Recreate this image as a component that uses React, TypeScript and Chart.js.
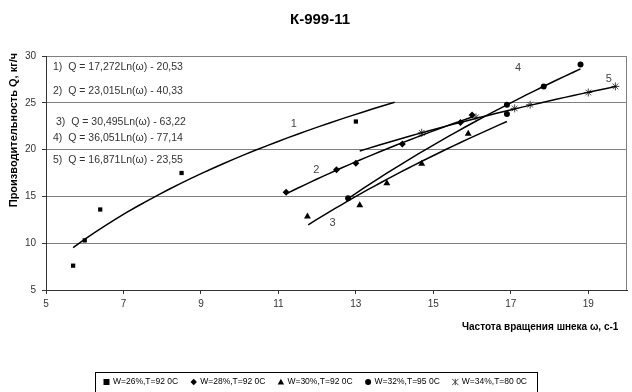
import React, { useEffect, useRef } from 'react';
import { Chart, registerables } from 'chart.js';

Chart.register(...registerables);

const chartTitle = 'К-999-11';
const yTitle = 'Производительность Q, кг/ч';
const xTitle = 'Частота вращения шнека ω, с-1';

const seriesNames = ['W=26%,T=92 0C', 'W=28%,T=92 0C', 'W=30%,T=92 0C', 'W=32%,T=95 0C', 'W=34%,T=80 0C'];

const s1X = [5.7, 6.0, 6.4, 8.5, 13.0];
const s1Y = [7.6, 10.3, 13.6, 17.5, 23.0];
const s2X = [11.2, 12.5, 13.0, 14.2, 15.7, 16.0];
const s2Y = [15.45, 17.85, 18.55, 20.6, 22.9, 23.7];
const s3X = [11.75, 13.1, 13.8, 14.7, 15.9];
const s3Y = [12.85, 14.05, 16.4, 18.5, 21.7];
const s4X = [12.8, 16.9, 16.9, 17.85, 18.8];
const s4Y = [14.8, 23.8, 24.8, 26.75, 29.1];
const s5X = [14.7, 16.1, 17.1, 17.5, 19.0, 19.7];
const s5Y = [21.8, 23.45, 24.4, 24.8, 26.1, 26.75];

// Logarithmic trendlines Q = a*Ln(w) + b, as printed on the chart
const trendA = [17.272, 23.015, 30.495, 36.051, 16.871];
const trendB = [-20.53, -40.33, -63.22, -77.14, -23.55];
const trendFrom = [5.7, 11.2, 11.77, 12.8, 13.1];
const trendTo = [14.0, 16.0, 16.9, 18.8, 19.72];

const equations = [
  '1)  Q = 17,272Ln(ω) - 20,53',
  '2)  Q = 23,015Ln(ω) - 40,33',
  '3)  Q = 30,495Ln(ω) - 63,22',
  '4)  Q = 36,051Ln(ω) - 77,14',
  '5)  Q = 16,871Ln(ω) - 23,55',
];
const curveLabels = ['1', '2', '3', '4', '5'];

const xTicks = [5, 7, 9, 11, 13, 15, 17, 19];
const yTicks = [5, 10, 15, 20, 25, 30];

const FONT = '"Liberation Sans", Arial, sans-serif';

function pts(xs: number[], ys: number[]) {
  return xs.map((x, i) => ({ x, y: ys[i] }));
}

function logCurve(i: number) {
  const out: { x: number; y: number }[] = [];
  const n = 30;
  for (let k = 0; k <= n; k++) {
    const x = trendFrom[i] + ((trendTo[i] - trendFrom[i]) * k) / n;
    out.push({ x, y: trendA[i] * Math.log(x) + trendB[i] });
  }
  return out;
}

const markerStyles = ['rect', 'rectRot', 'triangle', 'circle', 'star'];
const markerRadius = [3, 3.5, 4, 3, 4];
const markerColors = ['#000', '#000', '#000', '#000', '#444'];

function drawMarker(ctx: CanvasRenderingContext2D, style: string, x: number, y: number, r: number, color: string) {
  ctx.fillStyle = color;
  ctx.strokeStyle = color;
  ctx.lineWidth = 1;
  ctx.beginPath();
  if (style === 'rect') {
    ctx.rect(x - r, y - r, 2 * r, 2 * r);
    ctx.fill();
  } else if (style === 'rectRot') {
    ctx.moveTo(x, y - r);
    ctx.lineTo(x + r, y);
    ctx.lineTo(x, y + r);
    ctx.lineTo(x - r, y);
    ctx.closePath();
    ctx.fill();
  } else if (style === 'triangle') {
    ctx.moveTo(x, y - r);
    ctx.lineTo(x + r, y + r * 0.8);
    ctx.lineTo(x - r, y + r * 0.8);
    ctx.closePath();
    ctx.fill();
  } else if (style === 'circle') {
    ctx.arc(x, y, r, 0, Math.PI * 2);
    ctx.fill();
  } else {
    ctx.moveTo(x - r, y - r);
    ctx.lineTo(x + r, y + r);
    ctx.moveTo(x + r, y - r);
    ctx.lineTo(x - r, y + r);
    ctx.moveTo(x, y - r);
    ctx.lineTo(x, y + r);
    ctx.stroke();
  }
}

const decorPlugin = {
  id: 'decor',
  afterDraw(chart: any) {
    const ctx: CanvasRenderingContext2D = chart.ctx;
    const { left, right, top, bottom } = chart.chartArea;
    const xs = chart.scales.x;
    const ys = chart.scales.y;
    ctx.save();

    // right border of plot
    ctx.strokeStyle = '#808080';
    ctx.lineWidth = 1;
    ctx.beginPath();
    const rx = Math.round(right) - 0.5;
    ctx.moveTo(rx, top);
    ctx.lineTo(rx, bottom);
    ctx.stroke();

    // title
    ctx.fillStyle = '#000';
    ctx.textAlign = 'center';
    ctx.textBaseline = 'middle';
    ctx.font = `bold 15px ${FONT}`;
    ctx.fillText(chartTitle, 320, 20);

    // y title
    ctx.save();
    ctx.translate(14, 130);
    ctx.rotate(-Math.PI / 2);
    ctx.font = `bold 11px ${FONT}`;
    ctx.fillText(yTitle, 0, 0);
    ctx.restore();

    // x title
    ctx.textAlign = 'left';
    ctx.font = `bold 10px ${FONT}`;
    ctx.fillText(xTitle, 462, 327);

    // equations
    const eqOffY = [10.7, 34.7, 65.7, 81.7, 104];
    const eqOffX = [7, 7, 10, 7, 7];
    ctx.font = `10.5px ${FONT}`;
    ctx.fillStyle = '#333';
    equations.forEach((t, i) => ctx.fillText(t, left + eqOffX[i], top + eqOffY[i]));

    // curve labels (data coordinates)
    const labelAt = [
      [11.4, 22.7],
      [11.98, 17.8],
      [12.4, 12.2],
      [17.19, 28.7],
      [19.53, 27.55],
    ];
    ctx.font = `11px ${FONT}`;
    ctx.fillStyle = '#444';
    ctx.textAlign = 'center';
    curveLabels.forEach((t, i) => {
      ctx.fillText(t, xs.getPixelForValue(labelAt[i][0]), ys.getPixelForValue(labelAt[i][1]));
    });

    // legend
    ctx.font = `8.5px ${FONT}`;
    ctx.textAlign = 'left';
    const gap = 10;
    const widths = seriesNames.map((n) => 12 + ctx.measureText(n).width);
    const total = widths.reduce((a, b) => a + b, 0) + gap * (seriesNames.length - 1);
    const boxL = Math.round(316 - total / 2 - 8);
    const boxR = Math.round(316 + total / 2 + 8);
    ctx.strokeStyle = '#000';
    ctx.lineWidth = 1;
    ctx.strokeRect(boxL + 0.5, 372.5, boxR - boxL, 30);
    let cx = boxL + 8;
    const ly = 382;
    seriesNames.forEach((n, i) => {
      drawMarker(ctx, markerStyles[i], cx + 3.5, ly, Math.min(markerRadius[i], 3.2), markerColors[i]);
      ctx.fillStyle = '#000';
      ctx.fillText(n, cx + 10, ly);
      cx += widths[i] + gap;
    });

    ctx.restore();
  },
};

export default function App() {
  const ref = useRef<HTMLCanvasElement>(null);

  useEffect(() => {
    document.body.style.margin = '0';
    const scatterX = [s1X, s2X, s3X, s4X, s5X];
    const scatterY = [s1Y, s2Y, s3Y, s4Y, s5Y];
    const datasets: any[] = [];
    for (let i = 0; i < 5; i++) {
      datasets.push({
        type: 'line',
        label: 'trend' + (i + 1),
        data: logCurve(i),
        borderColor: '#000',
        borderWidth: 1.5,
        pointRadius: 0,
        fill: false,
        tension: 0,
      });
    }
    for (let i = 0; i < 5; i++) {
      datasets.push({
        type: 'scatter',
        label: seriesNames[i],
        data: pts(scatterX[i], scatterY[i]),
        pointStyle: markerStyles[i],
        pointRadius: markerRadius[i],
        backgroundColor: markerColors[i],
        borderColor: markerColors[i],
        borderWidth: i === 4 ? 1 : 0,
      });
    }

    const chart = new Chart(ref.current as HTMLCanvasElement, {
      type: 'scatter',
      data: { datasets },
      options: {
        animation: false,
        responsive: false,
        layout: { padding: { top: 56, right: 4, bottom: 82, left: 0 } },
        plugins: { legend: { display: false }, title: { display: false }, tooltip: { enabled: false } },
        scales: {
          x: {
            type: 'linear',
            min: 5,
            max: 20,
            afterBuildTicks: (s: any) => {
              s.ticks = xTicks.map((v) => ({ value: v }));
            },
            afterFit: (s: any) => {
              s.height = 20;
            },
            ticks: { font: { family: FONT, size: 10 }, color: '#333', padding: 4, maxRotation: 0, autoSkip: false },
            grid: { drawOnChartArea: false, drawTicks: true, tickLength: 4, color: '#333' },
            border: { display: true, color: '#333' },
          },
          y: {
            type: 'linear',
            min: 5,
            max: 30,
            afterBuildTicks: (s: any) => {
              s.ticks = yTicks.map((v) => ({ value: v }));
            },
            afterFit: (s: any) => {
              s.width = 46;
            },
            ticks: { font: { family: FONT, size: 10 }, color: '#333', padding: 6 },
            grid: { color: '#808080', tickColor: '#333', tickLength: 4 },
            border: { display: true, color: '#333' },
          },
        },
      },
      plugins: [decorPlugin],
    } as any);
    return () => chart.destroy();
  }, []);

  return (
    <div style={{ position: 'absolute', left: 0, top: 0, width: 632, height: 392 }}>
      <canvas ref={ref} width={632} height={392} style={{ width: 632, height: 392, display: 'block' }} />
    </div>
  );
}
